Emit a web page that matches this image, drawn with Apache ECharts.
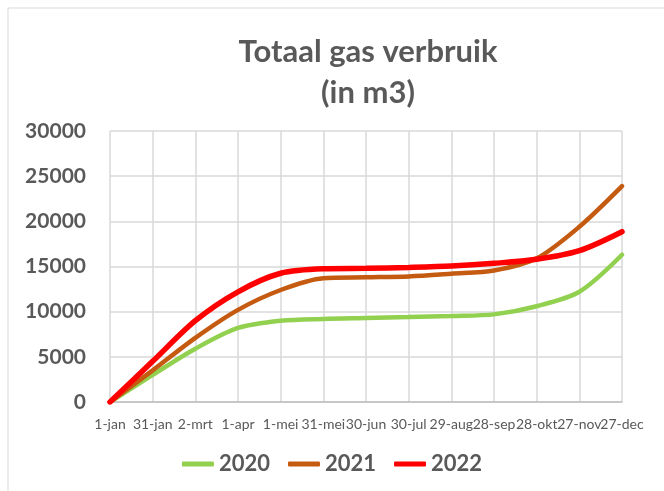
<!DOCTYPE html>
<html>
<head>
<meta charset="utf-8">
<script src="https://cdn.jsdelivr.net/npm/echarts@6/dist/echarts.min.js"></script>
<style>html,body{margin:0;padding:0;background:#fff}#c{width:664px;height:491px}</style>
</head>
<body>
<div id="c"></div>
<script>
var categories = ['1-jan','31-jan','2-mrt','1-apr','1-mei','31-mei','30-jun','30-jul','29-aug','28-sep','28-okt','27-nov','27-dec'];
var s2020 = [0, 3000, 5900, 8200, 9000, 9200, 9300, 9400, 9520, 9700, 10600, 12200, 16300];
var s2021 = [0, 3500, 7100, 10200, 12400, 13700, 13800, 13900, 14200, 14550, 15900, 19400, 23900];
var s2022 = [0, 4500, 9000, 12200, 14250, 14750, 14800, 14900, 15050, 15350, 15800, 16750, 18850];
var yTicks = [0, 5000, 10000, 15000, 20000, 25000, 30000];

var chart = echarts.init(document.getElementById('c'), null, {renderer: 'canvas'});
var font = 'Lato, "Open Sans", sans-serif';
function line(name, data, color, width) {
  return {name: name, type: 'line', data: data, smooth: 0.3, symbol: 'none',
    lineStyle: {color: color, width: width, cap: 'round'}, itemStyle: {color: color}};
}
chart.setOption({
  animation: false,
  backgroundColor: '#fff',
  graphic: [{type: 'rect', shape: {x: 8, y: 8, width: 800, height: 800},
    style: {fill: 'none', stroke: '#d9d9d9', lineWidth: 1}, silent: true, z: -1}],
  title: {
    text: 'Totaal gas verbruik\n(in m3)',
    left: 363, textAlign: 'center', top: 26,
    textStyle: {fontFamily: font, fontSize: 31, fontWeight: 'bold', color: '#595959', lineHeight: 41}
  },
  legend: {
    bottom: 11, left: 'center',
    itemWidth: 32, itemHeight: 5, itemGap: 18,
    icon: 'roundRect',
    textStyle: {fontFamily: font, fontSize: 22, fontWeight: 'bold', color: '#595959'},
    data: ['2020', '2021', '2022']
  },
  grid: {left: 110, right: 42, top: 131, bottom: 89},
  xAxis: {
    type: 'category', data: categories, boundaryGap: false,
    axisLine: {lineStyle: {color: '#bfbfbf', width: 1.5}},
    axisTick: {show: false},
    splitLine: {show: true, lineStyle: {color: '#d9d9d9', width: 1.5}},
    axisLabel: {interval: 0, fontFamily: font, fontSize: 14, color: '#595959', margin: 15}
  },
  yAxis: {
    type: 'value', min: 0, max: 30000, interval: 5000,
    axisLine: {show: false}, axisTick: {show: false},
    splitLine: {lineStyle: {color: '#d9d9d9', width: 1.5}},
    axisLabel: {fontFamily: font, fontSize: 21, fontWeight: 'bold', color: '#595959', margin: 24,
      formatter: function (v) { return yTicks.indexOf(v) >= 0 ? String(v) : ''; }}
  },
  series: [
    line('2020', s2020, '#92D050', 4.5),
    line('2021', s2021, '#C55A11', 4.5),
    line('2022', s2022, '#FF0000', 5.5)
  ]
});
</script>
</body>
</html>
